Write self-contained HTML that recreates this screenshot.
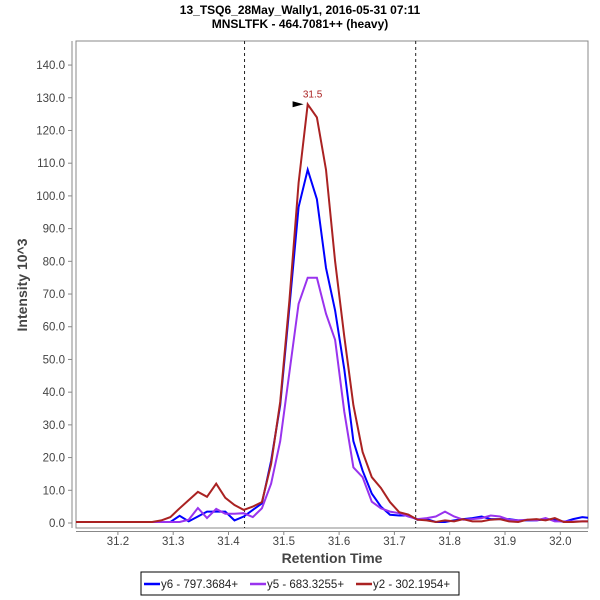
<!DOCTYPE html>
<html><head><meta charset="utf-8"><style>
body{margin:0;background:#fff;}
svg{display:block;font-family:"Liberation Sans",sans-serif;}
</style></head><body>
<svg id="chart" width="600" height="600" viewBox="0 0 600 600">
<text x="300" y="14" text-anchor="middle" font-size="12" font-weight="bold">13_TSQ6_28May_Wally1, 2016-05-31 07:11</text>
<text x="300" y="28" text-anchor="middle" font-size="12" font-weight="bold">MNSLTFK - 464.7081++ (heavy)</text>
<rect x="76" y="41" width="512" height="487" fill="#fff" stroke="#888" stroke-width="1"/>
<g id="yaxis"></g>
<g id="xaxis"></g>
<text transform="translate(27,285) rotate(-90)" text-anchor="middle" font-size="14" font-weight="bold" fill="#444">Intensity 10^3</text>
<text x="332" y="563" text-anchor="middle" font-size="14" font-weight="bold" fill="#444">Retention Time</text>
<defs><clipPath id="clip"><rect x="76" y="41" width="512" height="487"/></clipPath></defs>
<g id="markers"></g>
<g id="series" clip-path="url(#clip)"></g>
<g id="peak"></g>
<g>
<rect x="141" y="572" width="318" height="23" fill="#fff" stroke="#000" stroke-width="1"/>
<line x1="144" y1="584" x2="160" y2="584" stroke="#0000ff" stroke-width="2.5"/>
<text x="161" y="588" font-size="11.5" fill="#222">y6 - 797.3684+</text>
<line x1="250" y1="584" x2="266" y2="584" stroke="#9933ee" stroke-width="2.5"/>
<text x="267" y="588" font-size="11.5" fill="#222">y5 - 683.3255+</text>
<line x1="356" y1="584" x2="372" y2="584" stroke="#aa2222" stroke-width="2.5"/>
<text x="373" y="588" font-size="11.5" fill="#222">y2 - 302.1954+</text>
</g>
</svg>
<script>
const times = [];
for (let i = 0; i < 58; i++) times.push(+(31.1129 + i * 0.01655).toFixed(4));
const y6Values = [0.3,0.3,0.3,0.3,0.3,0.3,0.3,0.3,0.3,0.3,0.3,0.3,2.2,0.5,2,3.5,3.5,3.5,0.8,2,4,6,19,36,66,96.6,108,99,78,65,47,25,16,9,5,2.5,2.3,2.3,1.0,1.2,0.3,0.3,0.8,1.2,1.5,2,1.2,1.2,1.2,0.8,0.8,0.8,1.2,1.0,0.3,1.2,1.8,1.5];
const y5Values = [0.3,0.3,0.3,0.3,0.3,0.3,0.3,0.3,0.3,0.3,0.3,0.3,0.3,1.0,4.6,1.5,4.3,2.8,2.8,3,1.8,4.5,12,25,46,67,75,75,64,56,34,17,14,6.5,4.5,3.5,3,2,1.2,1.5,2,3.5,2,1,1.2,1.5,2.3,2,1,0.8,1,0.8,1.5,0.5,0.5,0.5,0.5,0.5];
const y2Values = [0.3,0.3,0.3,0.3,0.3,0.3,0.3,0.3,0.3,0.3,0.8,1.8,4.5,7,9.5,8,12,7.7,5.5,4,5,6.4,18,37,68,104,128,124,108,80,57,36,21.7,14,10.7,6.4,3.3,2.6,1.0,0.8,0.3,0.8,0.5,1.2,0.5,0.5,1.0,1.2,0.5,0.3,1.0,1.2,0.8,1.5,0.3,0.3,0.5,0.5];
const yTicks = [0,10,20,30,40,50,60,70,80,90,100,110,120,130,140];
const xTicks = [31.2,31.3,31.4,31.5,31.6,31.7,31.8,31.9,32.0];
const boundaries = [31.429, 31.7385];
const peakTime = 31.543, peakValue = 128, peakLabel = "31.5";

const NS = "http://www.w3.org/2000/svg";
function X(t){ return 117.9 + (t - 31.2) * 553; }
function Y(v){ return 523 - v * 3.271; }
function mk(tag, attrs, parent){ const e=document.createElementNS(NS,tag); for(const k in attrs) e.setAttribute(k,attrs[k]); parent.appendChild(e); return e; }

const ya = document.getElementById('yaxis');
mk('line',{x1:72,y1:41,x2:72,y2:528,stroke:'#888'},ya);
yTicks.forEach(v=>{
  const y=Y(v);
  mk('line',{x1:68,y1:y,x2:72,y2:y,stroke:'#888'},ya);
  const t=mk('text',{x:65,y:y+4,'text-anchor':'end','font-size':'11.5',fill:'#444'},ya);
  t.textContent=v.toFixed(1);
  
  
});
const xa = document.getElementById('xaxis');
mk('line',{x1:76,y1:531.5,x2:588,y2:531.5,stroke:'#888'},xa);
xTicks.forEach(v=>{
  const x=X(v);
  mk('line',{x1:x,y1:531.5,x2:x,y2:535,stroke:'#888'},xa);
  const t=mk('text',{x:x,y:545,'text-anchor':'middle','font-size':'11.5',fill:'#444'},xa);
  t.textContent=v.toFixed(1);
  
  
});
const mg=document.getElementById('markers');
boundaries.forEach(b=>{
  const l=mk('line',{x1:X(b),y1:41,x2:X(b),y2:528,stroke:'#222','stroke-width':1,'stroke-dasharray':'3,3'},mg);
  
  
});
const sg=document.getElementById('series');
[[y6Values,'#0000ff','series-y6'],[y5Values,'#9933ee','series-y5'],[y2Values,'#aa2222','series-y2']].forEach(([vals,col,name])=>{
  const pts=vals.map((v,i)=>X(times[i]).toFixed(1)+','+Y(v).toFixed(1)).join(' ');
  const p=mk('polyline',{points:pts,fill:'none',stroke:col,'stroke-width':2,'stroke-linejoin':'miter'},sg);
  
  
});
const pg=document.getElementById('peak');
const px=X(peakTime), py=Y(peakValue);
const tri=mk('polygon',{points:(px-15)+','+(py-3)+' '+(px-4)+','+py+' '+(px-15)+','+(py+3),fill:'#000'},pg);


const pl=mk('text',{x:px+5,y:py-7,'text-anchor':'middle','font-size':'10',fill:'#aa2222'},pg);
pl.textContent=peakLabel;


</script>
</body></html>
